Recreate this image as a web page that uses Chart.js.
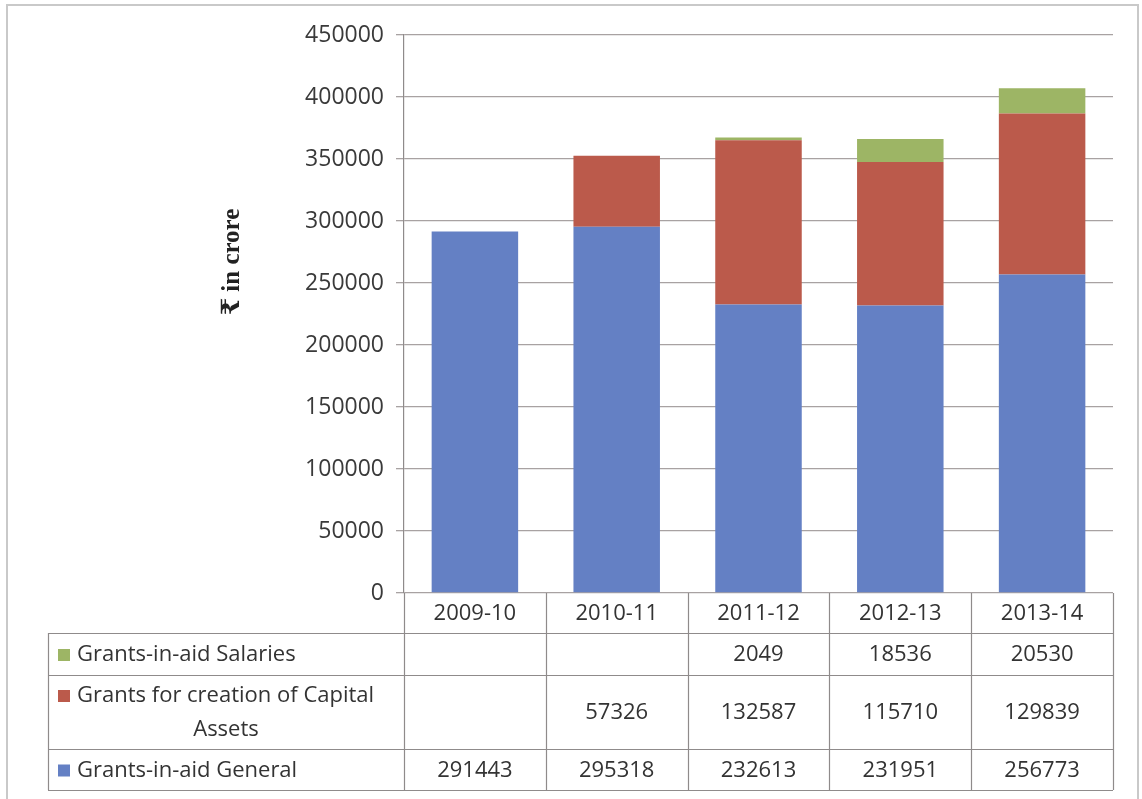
<!DOCTYPE html>
<html><head><meta charset="utf-8">
<script src="https://cdn.jsdelivr.net/npm/chart.js@4/dist/chart.umd.min.js"></script>
<style>html,body{margin:0;padding:0;background:#fff;}#wrap{position:relative;width:1142px;height:799px;}</style>
</head><body><div id="wrap"><canvas id="c" width="1142" height="799"></canvas></div>
<script>
const categories = ['2009-10','2010-11','2011-12','2012-13','2013-14'];
const general = [291443, 295318, 232613, 231951, 256773];
const capital = [null, 57326, 132587, 115710, 129839];
const salaries = [null, null, 2049, 18536, 20530];
const seriesNames = ['Grants-in-aid General', 'Grants for creation of Capital Assets', 'Grants-in-aid Salaries'];
const yTickValues = [0, 50000, 100000, 150000, 200000, 250000, 300000, 350000, 400000, 450000];
const yTitle = '₹ in crore';

const colors = ['#6480c4', '#bb5a4b', '#9db565'];
const FONT = '"Open Sans", "Liberation Sans", sans-serif';
const TEXT = '#333333';
const LINE = '#8f8b8b';

const tablePlugin = {
  id: 'dataTable',
  afterDraw(chart) {
    const ctx = chart.ctx;
    const ca = chart.chartArea;
    const n = chart.data.labels.length;
    const cw = (ca.right - ca.left) / n;
    const tableLeft = 48;
    const rows = [ca.bottom, 633, 675, 749, 790];
    ctx.save();
    // outer frame
    ctx.strokeStyle = '#c9c9c9';
    ctx.lineWidth = 2;
    ctx.strokeRect(7, 5, 1131, 810);
    // y title
    ctx.save();
    ctx.translate(233, 262);
    ctx.rotate(-Math.PI / 2);
    ctx.font = 'bold 25px "Liberation Serif", "DejaVu Serif", serif';
    ctx.fillStyle = '#222';
    ctx.textAlign = 'center';
    ctx.textBaseline = 'middle';
    ctx.fillText(yTitle, 0, 0);
    ctx.restore();

    ctx.strokeStyle = LINE;
    ctx.lineWidth = 1.2;
    ctx.beginPath();
    for (let r = 1; r < rows.length; r++) {
      ctx.moveTo(tableLeft, rows[r] + 0.5);
      ctx.lineTo(ca.right, rows[r] + 0.5);
    }
    for (let i = 0; i <= n; i++) {
      const x = Math.round(ca.left + i * cw) + 0.5;
      ctx.moveTo(x, ca.bottom);
      ctx.lineTo(x, rows[4]);
    }
    ctx.moveTo(tableLeft + 0.5, rows[1]);
    ctx.lineTo(tableLeft + 0.5, rows[4]);
    ctx.stroke();

    ctx.font = '22px ' + FONT;
    ctx.fillStyle = TEXT;
    ctx.textAlign = 'center';
    ctx.textBaseline = 'middle';
    chart.data.labels.forEach((lab, i) => {
      ctx.fillText(lab, ca.left + (i + 0.5) * cw, (rows[0] + rows[1]) / 2 + 1);
    });
    const ds = chart.data.datasets;
    for (let r = 0; r < ds.length; r++) {
      const d = ds[ds.length - 1 - r];
      const y0 = rows[r + 1], y1 = rows[r + 2];
      const ym = (y0 + y1) / 2 + 1;
      d.data.forEach((v, i) => {
        if (v !== null && v !== undefined) {
          ctx.fillStyle = TEXT;
          ctx.textAlign = 'center';
          ctx.fillText(String(v), ca.left + (i + 0.5) * cw, ym);
        }
      });
      ctx.fillStyle = d.backgroundColor;
      const label = d.label;
      ctx.textAlign = 'left';
      const maxW = ca.left - tableLeft - 40;
      if (ctx.measureText(label).width > maxW) {
        const words = label.split(' ');
        let line1 = '';
        let k = 0;
        while (k < words.length) {
          const test = line1 ? line1 + ' ' + words[k] : words[k];
          if (ctx.measureText(test).width > maxW) break;
          line1 = test; k++;
        }
        const line2 = words.slice(k).join(' ');
        const ya = ym - 17, yb = ym + 17;
        ctx.fillRect(58, ya - 6, 12, 12);
        ctx.fillStyle = TEXT;
        ctx.fillText(line1, 77, ya);
        ctx.textAlign = 'center';
        ctx.fillText(line2, (tableLeft + ca.left) / 2, yb);
      } else {
        ctx.fillRect(58, ym - 6, 12, 12);
        ctx.fillStyle = TEXT;
        ctx.fillText(label, 77, ym);
      }
    }
    ctx.restore();
  }
};

new Chart(document.getElementById('c'), {
  type: 'bar',
  data: {
    labels: categories,
    datasets: [
      { label: seriesNames[0], data: general, backgroundColor: colors[0] },
      { label: seriesNames[1], data: capital, backgroundColor: colors[1] },
      { label: seriesNames[2], data: salaries, backgroundColor: colors[2] }
    ]
  },
  options: {
    responsive: false,
    animation: false,
    devicePixelRatio: 1,
    layout: { padding: { left: 215, right: 29, top: 35, bottom: 206 } },
    datasets: { bar: { barPercentage: 0.61, categoryPercentage: 1.0 } },
    plugins: { legend: { display: false }, tooltip: { enabled: false }, title: { display: false } },
    scales: {
      x: { stacked: true, display: false },
      y: {
        stacked: true,
        min: 0, max: 450000,
        afterFit: s => { s.width = 189; },
        afterBuildTicks: s => { s.ticks = yTickValues.map(v => ({ value: v })); },
        ticks: { color: '#3a3a3a', font: { family: FONT, size: 23 }, padding: 12, callback: v => String(v) },
        grid: { color: '#a8a2a2', lineWidth: 1.3, tickLength: 8, drawTicks: true },
        border: { display: true, color: LINE, width: 1.2 },
        title: { display: false }
      }
    }
  },
  plugins: [tablePlugin]
});
</script>
</body></html>
